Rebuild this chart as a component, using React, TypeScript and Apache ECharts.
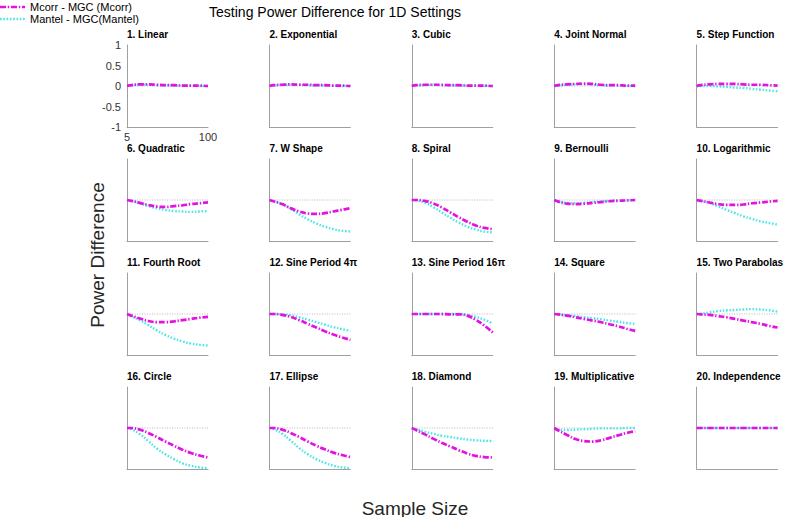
import React, { useEffect, useRef } from "react";
import * as echarts from "echarts";

const SAMPLE_SIZES = [5, 10, 20, 30, 40, 50, 60, 70, 80, 90, 100];

const PANEL_TITLES = [
  "1. Linear", "2. Exponential", "3. Cubic", "4. Joint Normal", "5. Step Function",
  "6. Quadratic", "7. W Shape", "8. Spiral", "9. Bernoulli", "10. Logarithmic",
  "11. Fourth Root", "12. Sine Period 4π", "13. Sine Period 16π", "14. Square", "15. Two Parabolas",
  "16. Circle", "17. Ellipse", "18. Diamond", "19. Multiplicative", "20. Independence",
];

const Y_TICKS = [-1, -0.5, 0, 0.5, 1];
const X_TICKS = [5, 100];

// Mcorr - MGC(Mcorr), one row per panel
const MCORR_DIFF = [
  [0, 0.02, 0.04, 0.04, 0.03, 0.02, 0.02, 0.01, 0.01, 0.01, 0.0],
  [0, 0.02, 0.03, 0.04, 0.03, 0.03, 0.02, 0.02, 0.01, 0.01, 0.0],
  [0, 0.02, 0.03, 0.03, 0.03, 0.02, 0.02, 0.01, 0.01, 0.01, 0.0],
  [0, 0.02, 0.04, 0.05, 0.06, 0.05, 0.03, 0.02, 0.02, 0.01, 0.01],
  [0, 0.02, 0.04, 0.05, 0.05, 0.05, 0.04, 0.03, 0.03, 0.02, 0.01],
  [0, -0.02, -0.07, -0.12, -0.16, -0.17, -0.15, -0.13, -0.1, -0.08, -0.06],
  [0, -0.03, -0.1, -0.2, -0.28, -0.33, -0.34, -0.32, -0.28, -0.24, -0.2],
  [0, 0, -0.02, -0.08, -0.18, -0.3, -0.42, -0.53, -0.62, -0.68, -0.71],
  [0, -0.04, -0.09, -0.1, -0.09, -0.07, -0.05, -0.03, -0.02, -0.01, 0],
  [0, -0.02, -0.06, -0.1, -0.12, -0.12, -0.11, -0.08, -0.06, -0.04, -0.02],
  [0, -0.04, -0.11, -0.17, -0.2, -0.2, -0.18, -0.15, -0.12, -0.09, -0.07],
  [0, 0, -0.02, -0.07, -0.15, -0.24, -0.33, -0.42, -0.5, -0.57, -0.63],
  [0, 0, 0, 0, 0, -0.01, -0.01, -0.04, -0.14, -0.28, -0.45],
  [0, -0.01, -0.04, -0.08, -0.12, -0.16, -0.2, -0.25, -0.3, -0.36, -0.41],
  [0, -0.01, -0.02, -0.05, -0.08, -0.12, -0.16, -0.2, -0.24, -0.29, -0.33],
  [0, 0, -0.04, -0.12, -0.22, -0.33, -0.43, -0.53, -0.61, -0.67, -0.72],
  [0, 0, -0.04, -0.12, -0.22, -0.33, -0.43, -0.52, -0.6, -0.66, -0.71],
  [0, -0.05, -0.15, -0.26, -0.36, -0.45, -0.54, -0.62, -0.68, -0.71, -0.72],
  [0, -0.06, -0.17, -0.27, -0.32, -0.33, -0.3, -0.24, -0.18, -0.12, -0.08],
  [0, 0, 0, 0, 0, 0, 0, 0, 0, 0, 0],
];

// Mantel - MGC(Mantel), one row per panel
const MANTEL_DIFF = [
  [0, 0.01, 0.03, 0.03, 0.02, 0.02, 0.01, 0.01, 0.01, 0.0, 0.0],
  [0, 0.01, 0.03, 0.03, 0.03, 0.02, 0.02, 0.01, 0.01, 0.0, 0.0],
  [0, 0.01, 0.02, 0.03, 0.02, 0.02, 0.01, 0.01, 0.01, 0.0, 0.0],
  [0, 0.01, 0.03, 0.04, 0.04, 0.03, 0.02, 0.01, 0.01, 0.0, 0.0],
  [0, 0, 0, -0.01, -0.02, -0.04, -0.05, -0.07, -0.09, -0.11, -0.13],
  [0, -0.02, -0.08, -0.15, -0.2, -0.24, -0.27, -0.28, -0.29, -0.28, -0.27],
  [0, -0.03, -0.1, -0.22, -0.35, -0.47, -0.57, -0.65, -0.71, -0.75, -0.77],
  [0, -0.01, -0.06, -0.17, -0.3, -0.43, -0.55, -0.65, -0.72, -0.77, -0.79],
  [0, -0.03, -0.07, -0.08, -0.07, -0.05, -0.03, -0.02, -0.01, -0.01, 0],
  [0, -0.02, -0.07, -0.15, -0.24, -0.32, -0.4, -0.46, -0.52, -0.56, -0.6],
  [0, -0.05, -0.15, -0.27, -0.4, -0.51, -0.6, -0.67, -0.72, -0.75, -0.77],
  [0, 0, -0.01, -0.03, -0.08, -0.14, -0.2, -0.26, -0.32, -0.37, -0.41],
  [0, 0, 0, 0, 0, 0, 0, -0.02, -0.07, -0.14, -0.23],
  [0, -0.01, -0.03, -0.05, -0.08, -0.1, -0.13, -0.16, -0.19, -0.22, -0.24],
  [0, 0.01, 0.04, 0.07, 0.09, 0.1, 0.11, 0.12, 0.11, 0.09, 0.06],
  [0, -0.03, -0.15, -0.32, -0.5, -0.64, -0.76, -0.86, -0.92, -0.96, -0.98],
  [0, -0.03, -0.14, -0.31, -0.49, -0.64, -0.76, -0.85, -0.92, -0.96, -0.98],
  [0, -0.03, -0.09, -0.14, -0.19, -0.22, -0.25, -0.28, -0.3, -0.31, -0.32],
  [0, -0.04, -0.05, -0.04, -0.03, -0.02, -0.01, -0.01, -0.01, 0, 0],
  [0, 0, 0, 0, 0, 0, 0, 0, 0, 0, 0],
];

const ZERO_LINE = [0, 0];
const ZERO_X = [5, 100];

const NAME_MCORR = "Mcorr - MGC (Mcorr)";
const NAME_MANTEL = "Mantel - MGC(Mantel)";

const FONT = "'Liberation Sans', Arial, Helvetica, sans-serif";
const MAGENTA = "#e312e3";
const CYAN = "#4de6e6";
const MAGENTA_DASH = [6, 1.8, 1.4, 1.8];
const CYAN_DASH = [1.6, 1.7];

export default function App() {
  const ref = useRef<HTMLDivElement>(null);

  useEffect(() => {
    document.body.style.margin = "0";
    if (!ref.current) return;
    const chart = echarts.init(ref.current, null, { renderer: "svg" });

    const grids: any[] = [];
    const xAxes: any[] = [];
    const yAxes: any[] = [];
    const series: any[] = [];
    const titles: any[] = [];

    for (let i = 0; i < 20; i++) {
      const row = Math.floor(i / 5);
      const col = i % 5;
      const left = 127 + col * 142.4;
      const top = 45 + row * 114;
      grids.push({ left, top, width: 81, height: 82 });
      titles.push({
        text: PANEL_TITLES[i],
        left: left,
        top: top - 16,
        padding: 0,
        textStyle: { fontSize: 10, fontWeight: "bold", color: "#000", fontFamily: FONT },
      });
      const showLabels = i === 0;
      xAxes.push({
        type: "value",
        gridIndex: i,
        min: 5,
        max: 100,
        axisLine: { show: true, onZero: false, lineStyle: { color: "#a0a0a0", width: 1 } },
        axisTick: { show: false },
        splitLine: { show: false },
        axisLabel: showLabels
          ? { show: true, customValues: X_TICKS, fontSize: 11, color: "#333333", margin: 4, fontFamily: FONT }
          : { show: false },
      });
      yAxes.push({
        type: "value",
        gridIndex: i,
        min: -1,
        max: 1,
        interval: 0.5,
        axisLine: { show: true, onZero: false, lineStyle: { color: "#a0a0a0", width: 1 } },
        axisTick: { show: false },
        splitLine: { show: false },
        axisLabel: showLabels
          ? { show: true, customValues: Y_TICKS, fontSize: 11, color: "#333333", margin: 6, fontFamily: FONT }
          : { show: false },
      });
      series.push({
        type: "line",
        xAxisIndex: i,
        yAxisIndex: i,
        silent: true,
        symbol: "none",
        data: ZERO_X.map((x, k) => [x, ZERO_LINE[k]]),
        lineStyle: { color: "#8c8c8c", width: 0.6, type: [1, 1.5] },
        z: 1,
      });
      series.push({
        name: NAME_MANTEL,
        type: "line",
        xAxisIndex: i,
        yAxisIndex: i,
        symbol: "none",
        smooth: 0.4,
        data: SAMPLE_SIZES.map((n, k) => [n, MANTEL_DIFF[i][k]]),
        lineStyle: { color: CYAN, width: 2.4, type: CYAN_DASH },
        itemStyle: { color: CYAN },
        z: 2,
      });
      series.push({
        name: NAME_MCORR,
        type: "line",
        xAxisIndex: i,
        yAxisIndex: i,
        symbol: "none",
        smooth: 0.4,
        data: SAMPLE_SIZES.map((n, k) => [n, MCORR_DIFF[i][k]]),
        lineStyle: { color: MAGENTA, width: 2.7, type: MAGENTA_DASH },
        itemStyle: { color: MAGENTA },
        z: 3,
      });
    }

    chart.setOption({
      animation: false,
      backgroundColor: "#fff",
      title: titles,
      grid: grids,
      xAxis: xAxes,
      yAxis: yAxes,
      series,
      graphic: [
        {
          type: "line",
          shape: { x1: 0, y1: 7, x2: 25, y2: 7 },
          style: { stroke: MAGENTA, lineWidth: 2.7, lineDash: MAGENTA_DASH },
        },
        {
          type: "text",
          x: 30,
          y: 7,
          style: { text: NAME_MCORR, fontSize: 11, fontFamily: FONT, fill: "#000", verticalAlign: "middle" },
        },
        {
          type: "line",
          shape: { x1: 0, y1: 19, x2: 25, y2: 19 },
          style: { stroke: CYAN, lineWidth: 2.4, lineDash: CYAN_DASH },
        },
        {
          type: "text",
          x: 30,
          y: 19,
          style: { text: NAME_MANTEL, fontSize: 11, fontFamily: FONT, fill: "#000", verticalAlign: "middle" },
        },
        {
          type: "text",
          x: 335,
          y: 12,
          style: {
            text: "Testing Power Difference for 1D Settings",
            fontSize: 14,
            fontFamily: FONT,
            fill: "#000",
            align: "center",
            verticalAlign: "middle",
          },
        },
        {
          type: "text",
          x: 415,
          y: 508,
          style: {
            text: "Sample Size",
            fontSize: 19,
            fontFamily: FONT,
            fill: "#262626",
            align: "center",
            verticalAlign: "middle",
          },
        },
        {
          type: "text",
          x: 97,
          y: 255,
          rotation: Math.PI / 2,
          style: {
            text: "Power Difference",
            fontSize: 19,
            fontFamily: FONT,
            fill: "#262626",
            align: "center",
            verticalAlign: "middle",
          },
        },
      ],
    });

    return () => chart.dispose();
  }, []);

  return <div ref={ref} style={{ width: 788, height: 517 }} />;
}
